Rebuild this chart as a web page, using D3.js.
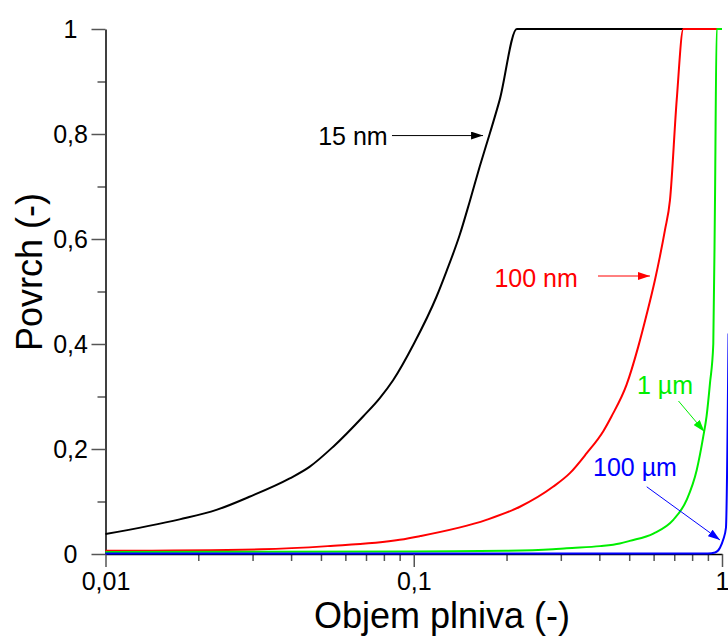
<!DOCTYPE html>
<html>
<head>
<meta charset="utf-8">
<script src="https://cdn.jsdelivr.net/npm/d3@7"></script>
<style>
  body { margin: 0; background: #fff; }
  svg { display: block; font-family: "Liberation Sans", Arial, sans-serif; }
</style>
</head>
<body>
<svg id="chart" width="728" height="636"></svg>
<script>
// curve data: [objem plniva, povrch]
var nm15 = [[0.01,0.038],[0.0174,0.066],[0.0229,0.084],[0.0293,0.109],[0.0396,0.144],[0.0459,0.166],
  [0.0547,0.204],[0.0685,0.262],[0.0776,0.297],[0.0857,0.331],[0.1,0.4],[0.1185,0.49],[0.1276,0.538],
  [0.141,0.608],[0.152,0.672],[0.1637,0.738],[0.1765,0.801],[0.19,0.865],[0.216,1],[1,1]];
var nm100 = [[0.01,0.006],[0.032,0.009],[0.0526,0.015],[0.09,0.027],[0.1046,0.034],[0.172,0.065],
  [0.221,0.09],[0.283,0.128],[0.321,0.154],[0.364,0.192],[0.412,0.234],[0.438,0.262],[0.49,0.322],
  [0.535,0.395],[0.57,0.457],[0.606,0.522],[0.629,0.567],[0.653,0.617],[0.678,0.674],[0.713,0.865],
  [0.749,1],[1,1]];
var um1 = [[0.01,0.004],[0.1,0.005],[0.2,0.006],[0.283,0.009],[0.313,0.011],[0.402,0.015],[0.466,0.02],
  [0.502,0.025],[0.599,0.039],[0.695,0.065],[0.768,0.103],[0.828,0.16],[0.869,0.223],[0.891,0.262],
  [0.914,0.325],[0.937,0.4],[0.949,0.674],[0.961,1],[1,1]];
var um100 = [[0.01,0.001],[0.9,0.001],[0.95,0.003],[0.985,0.012],[1.01,0.028],[1.03,0.05],[1.05,0.42]];

var xMajor = [0.01, 0.1, 1];
var yMajor = [0, 0.2, 0.4, 0.6, 0.8, 1];
var yMinor = [0.1, 0.3, 0.5, 0.7, 0.9];

var series = [
  {name: "15 nm", data: nm15, color: "#000000"},
  {name: "100 nm", data: nm100, color: "#ff0000"},
  {name: "1 µm", data: um1, color: "#00ee00"},
  {name: "100 µm", data: um100, color: "#0000ff"}
];

// labels and arrows, in data coordinates
var notes = [
  {text: "15 nm", color: "#000000", tx: 0.0635, ty: 0.797, from: [0.085, 0.797], to: [0.1678, 0.797]},
  {text: "100 nm", color: "#ff0000", tx: 0.2494, ty: 0.526, from: [0.396, 0.5295], to: [0.584, 0.5295]},
  {text: "1 µm", color: "#00ee00", tx: 0.653, ty: 0.322, from: [0.7225, 0.2914], to: [0.877, 0.233]},
  {text: "100 µm", color: "#0000ff", tx: 0.522, ty: 0.165, from: [0.57, 0.128], to: [0.985, 0.0267]}
];

var svg = d3.select("#chart");
var x = d3.scaleLog().domain([0.01, 1]).range([105.5, 722]);
var y = d3.scaleLinear().domain([0, 1]).range([554, 29]);

var xMinor = [];
[0.01, 0.1].forEach(function(d) {
  for (var i = 2; i <= 9; i++) xMinor.push(d * i);
});

var fmt = function(d) { return String(+d.toFixed(3)).replace(".", ","); };

// minor ticks
svg.append("g").attr("transform", "translate(0,554)")
  .call(d3.axisBottom(x).tickValues(xMinor).tickSize(7).tickFormat(""))
  .call(function(g) { g.select(".domain").remove(); });
svg.append("g").attr("transform", "translate(105.5,0)")
  .call(d3.axisLeft(y).tickValues(yMinor).tickSize(8).tickFormat(""))
  .call(function(g) { g.select(".domain").remove(); });

// major ticks + labels
var gx = svg.append("g").attr("transform", "translate(0,554)")
  .call(d3.axisBottom(x).tickValues(xMajor).tickSize(13).tickSizeOuter(0).tickFormat(fmt));
gx.selectAll("text").attr("y", 18).attr("font-size", 25).attr("fill", "#000");

var gy = svg.append("g").attr("transform", "translate(105.5,0)")
  .call(d3.axisLeft(y).tickValues(yMajor).tickSize(14).tickSizeOuter(0).tickFormat(fmt));
gy.selectAll("text").attr("x", -35).attr("text-anchor", "middle").attr("dy", "0.33em")
  .attr("font-size", 25).attr("fill", "#000");

svg.selectAll(".tick line").attr("stroke", "#555").attr("stroke-width", 1.5);
svg.selectAll(".domain").attr("stroke", "#000").attr("stroke-width", 1.5);

// curves
var line = d3.line().curve(d3.curveMonotoneX)
  .x(function(d) { return x(d[0]); }).y(function(d) { return y(d[1]); });
svg.append("g").selectAll("path").data(series).join("path")
  .attr("d", function(d) { return line(d.data); })
  .attr("fill", "none")
  .attr("stroke", function(d) { return d.color; })
  .attr("stroke-width", 2)
  .attr("stroke-linejoin", "round");

// arrowheads
var defs = svg.append("defs");
notes.forEach(function(n, i) {
  defs.append("marker").attr("id", "arr" + i)
    .attr("viewBox", "0 0 12 8").attr("refX", 12).attr("refY", 4)
    .attr("markerWidth", 12).attr("markerHeight", 8)
    .attr("markerUnits", "userSpaceOnUse").attr("orient", "auto")
    .append("path").attr("d", "M0,0L12,4L0,8Z").attr("fill", n.color);
});

var ann = svg.append("g");
ann.selectAll("line").data(notes).join("line")
  .attr("x1", function(d) { return x(d.from[0]); })
  .attr("y1", function(d) { return y(d.from[1]); })
  .attr("x2", function(d) { return x(d.to[0]); })
  .attr("y2", function(d) { return y(d.to[1]); })
  .attr("stroke", function(d) { return d.color; })
  .attr("stroke-width", 1)
  .attr("marker-end", function(d, i) { return "url(#arr" + i + ")"; });
ann.selectAll("text").data(notes).join("text")
  .attr("x", function(d) { return x(d.tx); })
  .attr("y", function(d) { return y(d.ty); })
  .attr("dy", "0.36em")
  .attr("text-anchor", "middle")
  .attr("font-size", 25)
  .attr("fill", function(d) { return d.color; })
  .text(function(d) { return d.text; });

// axis titles
svg.append("text").attr("x", 442).attr("y", 628).attr("text-anchor", "middle")
  .attr("font-size", 36).text("Objem plniva (-)");
svg.append("text").attr("transform", "translate(42,272) rotate(-90)").attr("text-anchor", "middle")
  .attr("font-size", 36).text("Povrch (-)");
</script>
</body>
</html>
